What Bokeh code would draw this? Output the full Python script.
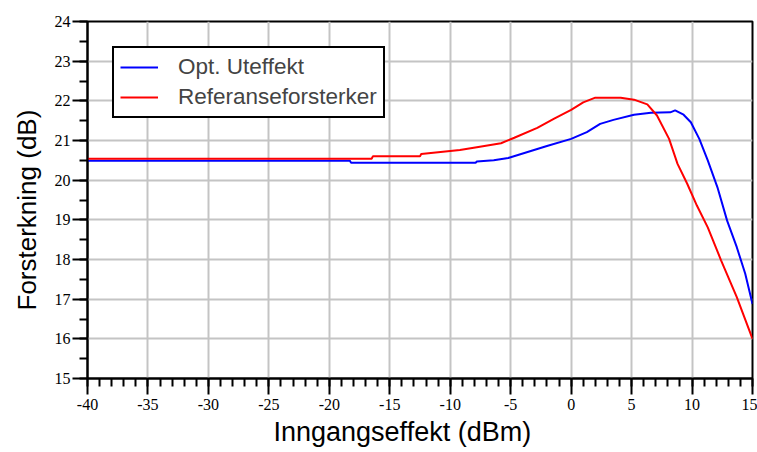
from bokeh.plotting import figure
from bokeh.models import Range1d, FixedTicker, Legend, LegendItem, Title
from bokeh.embed import file_html
from bokeh.resources import INLINE

# Data
ref_x = [-40, -16.5, -16.4, -12.5, -12.4, -10.8, -9.2, -7.8, -5.8, -4.7, -2.8, -1.4, 0.0, 1.0, 2.0,
         4.1, 5.2, 6.3, 7.1, 8.1, 8.8, 9.6, 10.4, 11.3, 12.4, 13.7, 15]
ref_y = [20.54, 20.54, 20.60, 20.60, 20.66, 20.71, 20.76, 20.83, 20.93, 21.07, 21.32, 21.55, 21.77, 21.96, 22.08,
         22.08, 22.03, 21.91, 21.63, 21.04, 20.41, 19.91, 19.36, 18.81, 17.98, 17.05, 16.0]

opt_x = [-40, -18.3, -18.2, -7.9, -7.8, -6.4, -5.2, -3.6, -2.0, 0.0, 1.3, 2.4, 3.5, 5.2, 6.6,
         8.2, 8.6, 9.3, 9.9, 10.6, 11.3, 12.1, 12.9, 13.7, 14.4, 15]
opt_y = [20.49, 20.49, 20.44, 20.44, 20.47, 20.50, 20.56, 20.71, 20.86, 21.04, 21.21, 21.42, 21.52, 21.65, 21.70,
         21.71, 21.76, 21.65, 21.46, 21.04, 20.50, 19.82, 18.98, 18.31, 17.64, 16.88]

x_major = list(range(-40, 16, 5))
x_minor = list(range(-40, 16, 1))
y_major = list(range(15, 25))
y_minor = [15 + 0.5 * i for i in range(19)]

series_names = ["Opt. Uteffekt", "Referanseforsterker"]
x_title = "Inngangseffekt (dBm)"
y_title = "Forsterkning (dB)"

p = figure(width=757, height=452, output_backend="svg", toolbar_location=None,
           x_range=Range1d(-40, 15), y_range=Range1d(15, 24),
           min_border_left=87, min_border_right=5, min_border_top=21, min_border_bottom=74)
p.background_fill_color = "white"
p.border_fill_color = "white"
p.outline_line_color = "black"
p.outline_line_alpha = 1.0
p.outline_line_width = 2

p.xaxis.ticker = FixedTicker(ticks=x_major, minor_ticks=x_minor)
p.yaxis.ticker = FixedTicker(ticks=y_major, minor_ticks=y_minor)
p.xaxis.major_label_overrides = {v: str(v) for v in x_major}
p.yaxis.major_label_overrides = {v: str(v) for v in y_major}

for ax in (p.xaxis, p.yaxis):
    ax.axis_line_color = "black"
    ax.axis_line_width = 2
    ax.major_tick_line_color = "black"
    ax.major_tick_line_width = 2
    ax.minor_tick_line_color = "black"
    ax.minor_tick_line_width = 2
    ax.major_tick_in = 0
    ax.minor_tick_in = 0
    ax.major_label_text_font = "Liberation Sans Narrow"
    ax.major_label_text_font_size = "16px"
    ax.major_label_text_color = "black"

p.xaxis.major_tick_out = 16
p.xaxis.minor_tick_out = 8
p.yaxis.major_tick_out = 15
p.yaxis.minor_tick_out = 8
p.xaxis.major_label_standoff = 4
p.yaxis.major_label_standoff = 2

p.add_layout(Title(text=x_title, align="left", offset=186, standoff=4,
                   text_font="Liberation Sans", text_font_size="27px",
                   text_font_style="normal", text_color="black"), "below")
p.add_layout(Title(text=y_title, align="left", offset=68, standoff=19,
                   text_font="Liberation Sans", text_font_size="26px",
                   text_font_style="normal", text_color="black"), "left")

p.xgrid.ticker = FixedTicker(ticks=x_major)
p.ygrid.ticker = FixedTicker(ticks=y_major)
p.grid.grid_line_color = "#c4c4c4"
p.grid.grid_line_width = 2

r_opt = p.line(opt_x, opt_y, line_color="#0000ff", line_width=2)
r_ref = p.line(ref_x, ref_y, line_color="#ff0000", line_width=2)

legend = Legend(items=[LegendItem(label=series_names[0], renderers=[r_opt]),
                       LegendItem(label=series_names[1], renderers=[r_ref])],
                location=(25, 260), margin=0, padding=6, spacing=4, title_standoff=0,
                glyph_width=38, glyph_height=22, label_height=22, label_standoff=20,
                label_text_font="Liberation Sans", label_text_font_size="22.5px",
                label_text_line_height=1.0,
                border_line_color="black", border_line_width=2, border_line_alpha=1.0,
                background_fill_color="white", background_fill_alpha=1.0)
p.add_layout(legend)

open("out.html", "w").write(file_html(p, INLINE))
